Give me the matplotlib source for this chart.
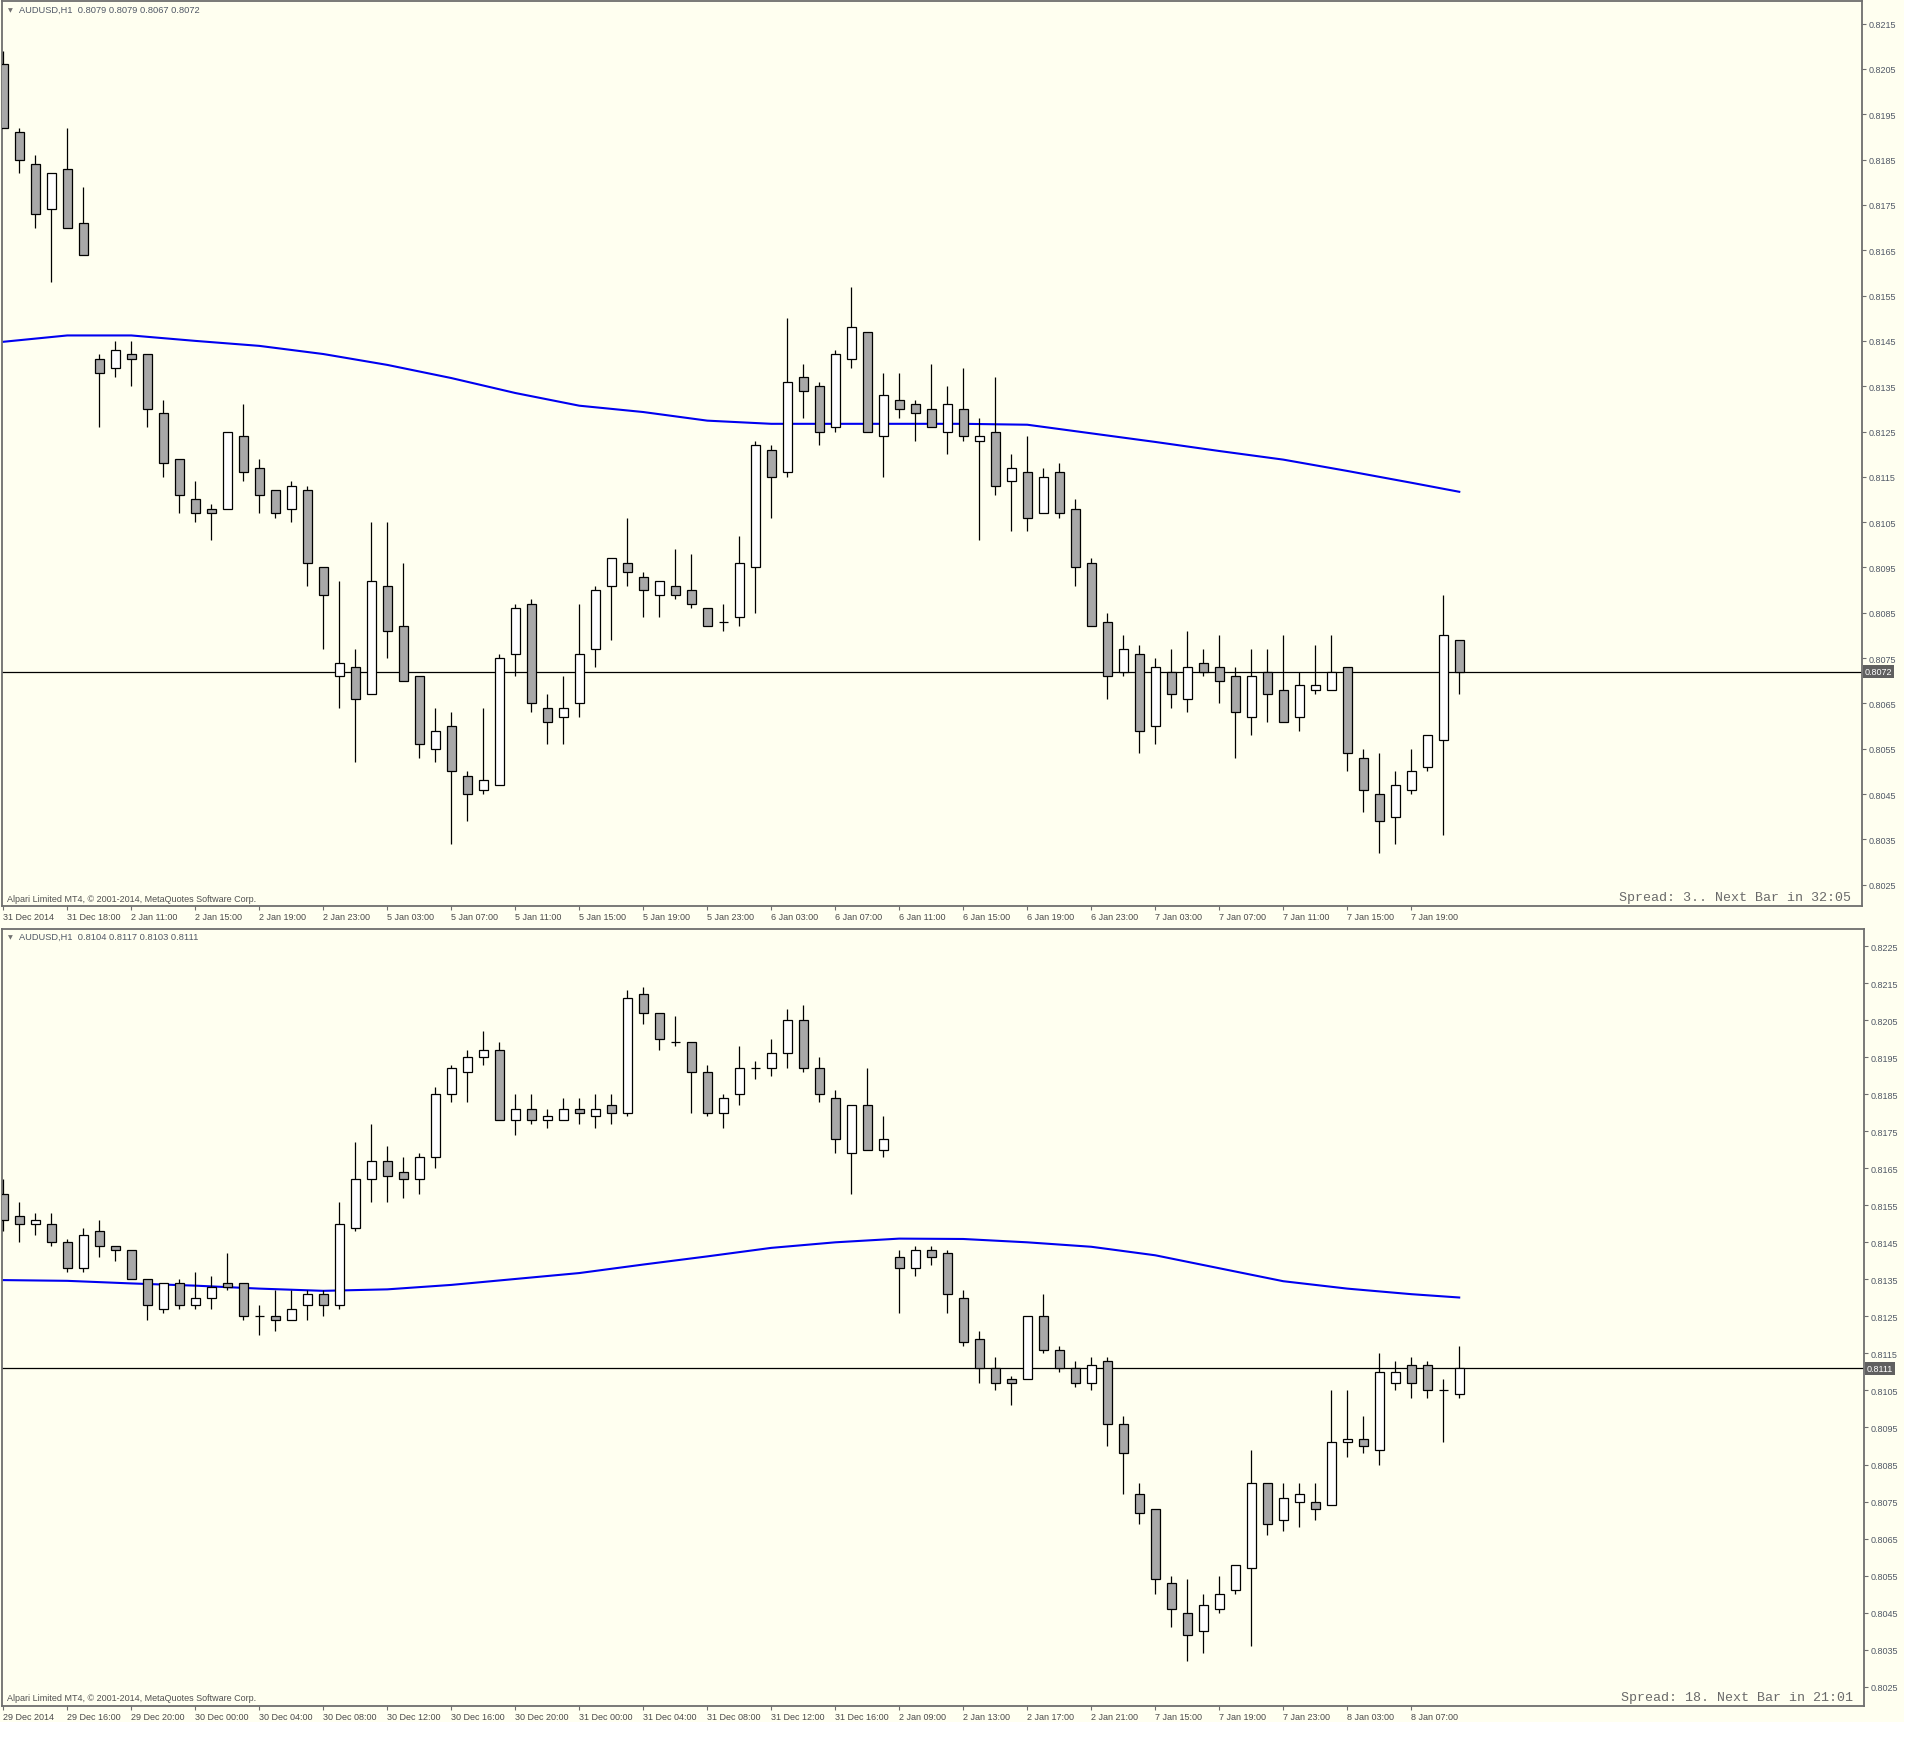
# MT4 style chart: AUDUSD H1, two windows with candles, MA and bid line

import numpy as np
import matplotlib
matplotlib.use('Agg')
import matplotlib.pyplot as plt
from matplotlib.patches import Rectangle

# ---------------- data (prices) ----------------
# top window, bars 31 Dec 14:00 .. 7 Jan 22:00
top_open = [0.8206, 0.8191, 0.8184, 0.8174, 0.8183, 0.8171, 0.8141, 0.8139, 0.8142, 0.8142,
            0.8129, 0.8119, 0.8110, 0.8108, 0.8108, 0.8124, 0.8117, 0.8112, 0.8108, 0.8112,
            0.8095, 0.8071, 0.8073, 0.8067, 0.8091, 0.8082, 0.8071, 0.8055, 0.8060, 0.8049,
            0.8046, 0.8047, 0.8076, 0.8087, 0.8064, 0.8062, 0.8065, 0.8077, 0.8091, 0.8096,
            0.8093, 0.8089, 0.8091, 0.8090, 0.8086, 0.8083, 0.8084, 0.8095, 0.8121, 0.8116,
            0.8137, 0.8135, 0.8126, 0.8141, 0.8147, 0.8124, 0.8132, 0.8131, 0.8130, 0.8125,
            0.8130, 0.8123, 0.8125, 0.8114, 0.8116, 0.8107, 0.8116, 0.8108, 0.8096, 0.8083,
            0.8072, 0.8076, 0.8060, 0.8072, 0.8066, 0.8074, 0.8073, 0.8071, 0.8062, 0.8072,
            0.8068, 0.8062, 0.8068, 0.8068, 0.8073, 0.8053, 0.8045, 0.8040, 0.8046, 0.8051,
            0.8057, 0.8079]
top_high = [0.8209, 0.8192, 0.8186, 0.8182, 0.8192, 0.8179, 0.8142, 0.8145, 0.8145, 0.8142,
            0.8132, 0.8119, 0.8114, 0.8109, 0.8125, 0.8131, 0.8119, 0.8112, 0.8114, 0.8113,
            0.8095, 0.8092, 0.8077, 0.8105, 0.8105, 0.8096, 0.8071, 0.8064, 0.8063, 0.8050,
            0.8064, 0.8076, 0.8087, 0.8088, 0.8067, 0.8071, 0.8087, 0.8091, 0.8097, 0.8106,
            0.8094, 0.8092, 0.8099, 0.8098, 0.8086, 0.8087, 0.8102, 0.8123, 0.8122, 0.8150,
            0.8140, 0.8136, 0.8143, 0.8157, 0.8147, 0.8138, 0.8138, 0.8132, 0.8140, 0.8135,
            0.8139, 0.8128, 0.8137, 0.8120, 0.8124, 0.8117, 0.8118, 0.8110, 0.8097, 0.8085,
            0.8080, 0.8078, 0.8075, 0.8077, 0.8081, 0.8077, 0.8080, 0.8073, 0.8077, 0.8077,
            0.8080, 0.8072, 0.8078, 0.8080, 0.8073, 0.8055, 0.8054, 0.8050, 0.8055, 0.8058,
            0.8089, 0.8079]
top_low = [0.8192, 0.8182, 0.8170, 0.8158, 0.8170, 0.8164, 0.8126, 0.8137, 0.8135, 0.8126,
           0.8115, 0.8107, 0.8105, 0.8101, 0.8108, 0.8114, 0.8107, 0.8106, 0.8105, 0.8091,
           0.8077, 0.8064, 0.8052, 0.8067, 0.8075, 0.8070, 0.8053, 0.8052, 0.8034, 0.8039,
           0.8045, 0.8047, 0.8071, 0.8063, 0.8056, 0.8056, 0.8062, 0.8073, 0.8079, 0.8091,
           0.8084, 0.8084, 0.8088, 0.8086, 0.8082, 0.8081, 0.8082, 0.8085, 0.8106, 0.8115,
           0.8128, 0.8122, 0.8125, 0.8139, 0.8125, 0.8115, 0.8128, 0.8123, 0.8126, 0.8120,
           0.8123, 0.8101, 0.8111, 0.8103, 0.8103, 0.8107, 0.8106, 0.8091, 0.8082, 0.8066,
           0.8071, 0.8054, 0.8056, 0.8064, 0.8063, 0.8071, 0.8065, 0.8053, 0.8058, 0.8061,
           0.8061, 0.8059, 0.8067, 0.8068, 0.8050, 0.8041, 0.8032, 0.8034, 0.8045, 0.8050,
           0.8036, 0.8067]
top_close = [0.8192, 0.8185, 0.8173, 0.8182, 0.8170, 0.8164, 0.8138, 0.8143, 0.8141, 0.8130,
             0.8118, 0.8111, 0.8107, 0.8107, 0.8125, 0.8116, 0.8111, 0.8107, 0.8113, 0.8096,
             0.8089, 0.8074, 0.8066, 0.8092, 0.8081, 0.8070, 0.8056, 0.8059, 0.8050, 0.8045,
             0.8048, 0.8075, 0.8086, 0.8065, 0.8061, 0.8064, 0.8076, 0.8090, 0.8097, 0.8094,
             0.8090, 0.8092, 0.8089, 0.8087, 0.8082, 0.8083, 0.8096, 0.8122, 0.8115, 0.8136,
             0.8134, 0.8125, 0.8142, 0.8148, 0.8125, 0.8133, 0.8130, 0.8129, 0.8126, 0.8131,
             0.8124, 0.8124, 0.8113, 0.8117, 0.8106, 0.8115, 0.8107, 0.8095, 0.8082, 0.8071,
             0.8077, 0.8059, 0.8073, 0.8067, 0.8073, 0.8072, 0.8070, 0.8063, 0.8071, 0.8067,
             0.8061, 0.8069, 0.8069, 0.8072, 0.8054, 0.8046, 0.8039, 0.8047, 0.8050, 0.8058,
             0.8080, 0.8072]
top_ma_bar = [0, 4, 8, 12, 16, 20, 24, 28, 32, 36, 40, 44, 48, 52, 56, 60, 64, 68, 72, 76, 80, 84, 88, 91]
top_ma = [0.81448, 0.81462, 0.81462, 0.81450, 0.81439, 0.81421, 0.81397, 0.81368, 0.81335, 0.81307,
          0.81293, 0.81274, 0.81267, 0.81267, 0.81267, 0.81267, 0.81265, 0.81246, 0.81227, 0.81207,
          0.81188, 0.81163, 0.81137, 0.81117]
top_times = ['31 Dec 2014', '31 Dec 18:00', '2 Jan 11:00', '2 Jan 15:00', '2 Jan 19:00', '2 Jan 23:00',
             '5 Jan 03:00', '5 Jan 07:00', '5 Jan 11:00', '5 Jan 15:00', '5 Jan 19:00', '5 Jan 23:00',
             '6 Jan 03:00', '6 Jan 07:00', '6 Jan 11:00', '6 Jan 15:00', '6 Jan 19:00', '6 Jan 23:00',
             '7 Jan 03:00', '7 Jan 07:00', '7 Jan 11:00', '7 Jan 15:00', '7 Jan 19:00']
top_bid = 0.8072
top_header = 'AUDUSD,H1  0.8079 0.8079 0.8067 0.8072'
top_spread = 'Spread: 3.. Next Bar in 32:05'

# bottom window, bars 29 Dec .. 8 Jan 10:00
bot_open = [0.8158, 0.8152, 0.8150, 0.8150, 0.8145, 0.8138, 0.8148, 0.8144, 0.8143, 0.8135,
            0.8127, 0.8134, 0.8128, 0.8130, 0.8134, 0.8134, 0.8125, 0.8125, 0.8124, 0.8128,
            0.8131, 0.8128, 0.8149, 0.8162, 0.8167, 0.8164, 0.8162, 0.8168, 0.8185, 0.8191,
            0.8195, 0.8197, 0.8178, 0.8181, 0.8178, 0.8178, 0.8181, 0.8179, 0.8182, 0.8180,
            0.8212, 0.8207, 0.8199, 0.8199, 0.8191, 0.8180, 0.8185, 0.8192, 0.8192, 0.8196,
            0.8205, 0.8192, 0.8184, 0.8169, 0.8182, 0.8170, 0.8141, 0.8138, 0.8143, 0.8142,
            0.8130, 0.8119, 0.8111, 0.8108, 0.8108, 0.8125, 0.8116, 0.8111, 0.8107, 0.8113,
            0.8096, 0.8077, 0.8073, 0.8053, 0.8045, 0.8040, 0.8046, 0.8051, 0.8057, 0.8080,
            0.8070, 0.8075, 0.8075, 0.8074, 0.8091, 0.8092, 0.8089, 0.8107, 0.8112, 0.8112,
            0.8105, 0.8104]
bot_high = [0.8162, 0.8156, 0.8153, 0.8153, 0.8146, 0.8149, 0.8151, 0.8144, 0.8143, 0.8135,
            0.8134, 0.8135, 0.8137, 0.8136, 0.8142, 0.8134, 0.8128, 0.8132, 0.8132, 0.8132,
            0.8132, 0.8156, 0.8172, 0.8177, 0.8171, 0.8168, 0.8169, 0.8187, 0.8193, 0.8197,
            0.8202, 0.8199, 0.8185, 0.8185, 0.8181, 0.8184, 0.8184, 0.8185, 0.8185, 0.8213,
            0.8214, 0.8207, 0.8206, 0.8199, 0.8193, 0.8185, 0.8198, 0.8194, 0.8200, 0.8208,
            0.8209, 0.8195, 0.8186, 0.8182, 0.8192, 0.8179, 0.8143, 0.8144, 0.8144, 0.8143,
            0.8132, 0.8121, 0.8114, 0.8109, 0.8125, 0.8131, 0.8117, 0.8113, 0.8114, 0.8114,
            0.8098, 0.8080, 0.8073, 0.8055, 0.8054, 0.8050, 0.8055, 0.8058, 0.8089, 0.8080,
            0.8080, 0.8080, 0.8080, 0.8105, 0.8105, 0.8098, 0.8115, 0.8113, 0.8114, 0.8113,
            0.8108, 0.8117]
bot_low = [0.8148, 0.8145, 0.8147, 0.8144, 0.8137, 0.8137, 0.8141, 0.8140, 0.8135, 0.8124,
           0.8126, 0.8127, 0.8127, 0.8127, 0.8132, 0.8124, 0.8120, 0.8121, 0.8124, 0.8124,
           0.8125, 0.8127, 0.8148, 0.8156, 0.8156, 0.8157, 0.8158, 0.8165, 0.8183, 0.8183,
           0.8193, 0.8178, 0.8174, 0.8177, 0.8176, 0.8178, 0.8177, 0.8176, 0.8177, 0.8179,
           0.8204, 0.8197, 0.8198, 0.8180, 0.8179, 0.8176, 0.8182, 0.8189, 0.8190, 0.8192,
           0.8191, 0.8183, 0.8169, 0.8158, 0.8170, 0.8168, 0.8126, 0.8136, 0.8139, 0.8126,
           0.8117, 0.8107, 0.8105, 0.8101, 0.8108, 0.8115, 0.8110, 0.8106, 0.8105, 0.8090,
           0.8077, 0.8069, 0.8050, 0.8041, 0.8032, 0.8034, 0.8045, 0.8050, 0.8036, 0.8066,
           0.8067, 0.8068, 0.8070, 0.8074, 0.8087, 0.8088, 0.8085, 0.8105, 0.8103, 0.8103,
           0.8091, 0.8103]
bot_close = [0.8151, 0.8150, 0.8151, 0.8145, 0.8138, 0.8147, 0.8144, 0.8143, 0.8135, 0.8128,
             0.8134, 0.8128, 0.8130, 0.8133, 0.8133, 0.8125, 0.8125, 0.8124, 0.8127, 0.8131,
             0.8128, 0.8150, 0.8162, 0.8167, 0.8163, 0.8162, 0.8168, 0.8185, 0.8192, 0.8195,
             0.8197, 0.8178, 0.8181, 0.8178, 0.8179, 0.8181, 0.8180, 0.8181, 0.8180, 0.8211,
             0.8207, 0.8200, 0.8199, 0.8191, 0.8180, 0.8184, 0.8192, 0.8192, 0.8196, 0.8205,
             0.8192, 0.8185, 0.8173, 0.8182, 0.8170, 0.8173, 0.8138, 0.8143, 0.8141, 0.8131,
             0.8118, 0.8111, 0.8107, 0.8107, 0.8125, 0.8116, 0.8111, 0.8107, 0.8112, 0.8096,
             0.8088, 0.8072, 0.8054, 0.8046, 0.8039, 0.8047, 0.8050, 0.8058, 0.8080, 0.8069,
             0.8076, 0.8077, 0.8073, 0.8091, 0.8092, 0.8090, 0.8110, 0.8110, 0.8107, 0.8105,
             0.8105, 0.8111]
bot_ma_bar = [0, 4, 8, 12, 16, 20, 24, 28, 32, 36, 40, 44, 48, 52, 56, 60, 64, 68, 72, 76, 80, 84, 88, 91]
bot_ma = [0.81348, 0.81346, 0.81339, 0.81333, 0.81325, 0.81319, 0.81323, 0.81335, 0.81351, 0.81367,
          0.81390, 0.81412, 0.81435, 0.81450, 0.81460, 0.81459, 0.81450, 0.81438, 0.81415, 0.81380,
          0.81345, 0.81325, 0.81310, 0.81301]
bot_times = ['29 Dec 2014', '29 Dec 16:00', '29 Dec 20:00', '30 Dec 00:00', '30 Dec 04:00', '30 Dec 08:00',
             '30 Dec 12:00', '30 Dec 16:00', '30 Dec 20:00', '31 Dec 00:00', '31 Dec 04:00', '31 Dec 08:00',
             '31 Dec 12:00', '31 Dec 16:00', '2 Jan 09:00', '2 Jan 13:00', '2 Jan 17:00', '2 Jan 21:00',
             '7 Jan 15:00', '7 Jan 19:00', '7 Jan 23:00', '8 Jan 03:00', '8 Jan 07:00']
bot_bid = 0.8111
bot_header = 'AUDUSD,H1  0.8104 0.8117 0.8103 0.8111'
bot_spread = 'Spread: 18. Next Bar in 21:01'
copyright_text = 'Alpari Limited MT4, \u00a9 2001-2014, MetaQuotes Software Corp.'

# ---------------- style ----------------
W, H = 1916, 1756
BG = '#fffff0'
FRAME = '#6e6e6e'
TXT = '#505866'
FONT = ['Liberation Sans', 'DejaVu Sans']
plt.rcParams['font.family'] = FONT


def px_rect(l, t, r, b):
    # pixel box -> figure fraction rect
    return [l / W, 1 - b / H, (r - l) / W, (b - t) / H]


def draw_window(ax, o, h, l, c, ma_bar, ma, times, bid, ylim, xmax, header):
    o, h, l, c = map(np.asarray, (o, h, l, c))
    x = np.arange(len(o))
    ax.set_facecolor(BG)
    ax.axhline(bid, color='black', linewidth=0.9, zorder=1)
    ax.plot(ma_bar, ma, color='#0000f0', linewidth=1.5, zorder=2, solid_joinstyle='round')
    ax.vlines(x, l, h, color='black', linewidth=0.9, zorder=3)
    fill = np.where(c >= o, 'white', '#a8a8a8')
    ax.bar(x, np.abs(c - o), bottom=np.minimum(o, c), width=0.58, color=fill,
           edgecolor='black', linewidth=0.9, zorder=4)

    ax.set_xlim(-0.08, xmax)
    ax.set_ylim(*ylim)

    # time scale
    ax.set_xticks(np.arange(0, 4 * len(times), 4))
    ax.set_xticklabels(times)
    for lbl in ax.get_xticklabels():
        lbl.set_ha('left')
    # price scale
    ax.yaxis.tick_right()
    lo = np.ceil((ylim[0] - 0.0005) * 1000) / 1000 + 0.0005
    ticks = np.arange(lo, ylim[1], 0.001)
    ax.set_yticks(ticks)
    ax.set_yticklabels(['%.4f' % t for t in ticks])
    ax.tick_params(axis='x', direction='out', length=3, width=0.8, color=FRAME,
                   labelsize=6.5, labelcolor='#4a4a4a', pad=1.5)
    ax.tick_params(axis='y', direction='out', length=3, width=0.8, color=FRAME,
                   labelsize=6.5, labelcolor=TXT, pad=1.5)
    for s in ax.spines.values():
        s.set_color(FRAME)
        s.set_linewidth(1.3)

    # current bid label
    ax.annotate('%.4f' % bid, xy=(1.0, bid), xycoords=('axes fraction', 'data'),
                xytext=(2.0, 0), textcoords='offset points', va='center', ha='left',
                fontsize=6.5, color='white', zorder=6, annotation_clip=False,
                bbox=dict(boxstyle='square,pad=0.2', fc='#606060', ec='none'))

    # window header
    ax.text(0.0033, 0.9905, '\u25bc', transform=ax.transAxes, fontsize=4.5, color='#707070',
            va='center', ha='left', family='DejaVu Sans')
    ax.text(0.0092, 0.9905 if ylim[1] > 0.8221 else 0.991, header, transform=ax.transAxes,
            fontsize=6.7, color=TXT, va='center', ha='left')


fig = plt.figure(figsize=(W / 100, H / 100), dpi=100)
fig.patch.set_facecolor('white')
fig.patches.append(Rectangle((0, 1 - 1723 / H), 1904 / W, 1723 / H, transform=fig.transFigure,
                             facecolor=BG, edgecolor='none', zorder=-10))

ax1 = fig.add_axes(px_rect(2, 2, 1862, 907))
draw_window(ax1, top_open, top_high, top_low, top_close, top_ma_bar, top_ma, top_times,
            top_bid, (0.80203, 0.82200), 116.17, top_header)

ax2 = fig.add_axes(px_rect(2, 930, 1864, 1707))
draw_window(ax2, bot_open, bot_high, bot_low, bot_close, bot_ma_bar, bot_ma, bot_times,
            bot_bid, (0.80198, 0.82296), 116.3, bot_header)

# footer texts in pixel positions of each window
for y_copy, y_spread, r_spread, txt in [(900, 898, 1851, top_spread), (1699, 1698, 1853, bot_spread)]:
    fig.text(7 / W, 1 - y_copy / H, copyright_text, fontsize=6.5, color='#505050', va='center', ha='left')
    fig.text(r_spread / W, 1 - y_spread / H, txt, fontsize=9.6, color='#6a6a6a', va='center', ha='right',
             family='Liberation Mono')

fig.savefig('out.png', dpi=100, facecolor=fig.get_facecolor())
